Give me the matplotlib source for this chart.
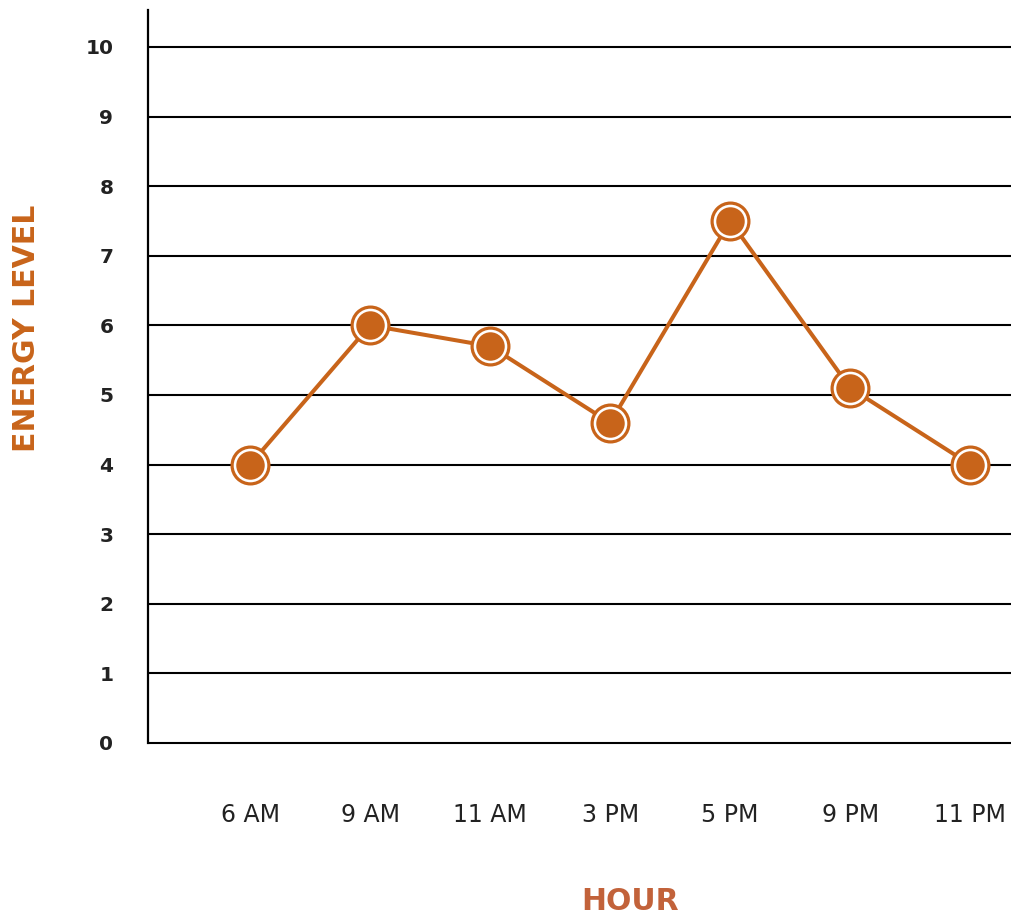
import matplotlib.pyplot as plt

hours = ['6 AM', '9 AM', '11 AM', '3 PM', '5 PM', '9 PM', '11 PM']
energy = [4.0, 6.0, 5.7, 4.6, 7.5, 5.1, 4.0]
levels = list(range(0, 11))

orange = '#C8641A'
title_orange = '#C2623A'
dark = '#222222'

fig = plt.figure(figsize=(10.11, 9.16), dpi=100)
ax = fig.add_axes([148 / 1011, 173 / 916, 1 - 148 / 1011, 733 / 916])

x = list(range(len(hours)))

# horizontal guide lines for each level
ax.hlines(levels, -0.84, 6.34, colors='black', linewidth=1.5, clip_on=False, zorder=1)

# line, white-filled rings, then solid dots
ax.plot(x, energy, color=orange, linewidth=2.9, zorder=2)
ax.plot(x, energy, linestyle='none', marker='o', markersize=26.5,
        markerfacecolor='white', markeredgecolor=orange, markeredgewidth=2.3, zorder=3)
ax.plot(x, energy, linestyle='none', marker='o', markersize=20.5,
        markerfacecolor=orange, markeredgewidth=0, zorder=4)

ax.set_xlim(-0.85, 6.34)
ax.set_ylim(0, 10.53)

for side in ['top', 'right', 'bottom']:
    ax.spines[side].set_visible(False)
ax.spines['left'].set_linewidth(1.6)
ax.spines['left'].set_color('black')

ax.set_yticks(levels)
ax.set_yticklabels([str(v) for v in levels], fontsize=14.5, fontweight='bold', color=dark)
ax.tick_params(axis='y', length=0, pad=25)

ax.set_xticks(x)
ax.set_xticklabels(hours, fontsize=17, color=dark)
ax.tick_params(axis='x', length=0, pad=43)

fig.text(27 / 1011, 1 - 328 / 916, 'ENERGY LEVEL', rotation=90, ha='center', va='center',
         fontsize=21.5, fontweight='bold', color=orange)
fig.text(630 / 1011, 1 - 902 / 916, 'HOUR', ha='center', va='center',
         fontsize=21.5, fontweight='bold', color=title_orange)

fig.savefig('out.png', dpi=100)
